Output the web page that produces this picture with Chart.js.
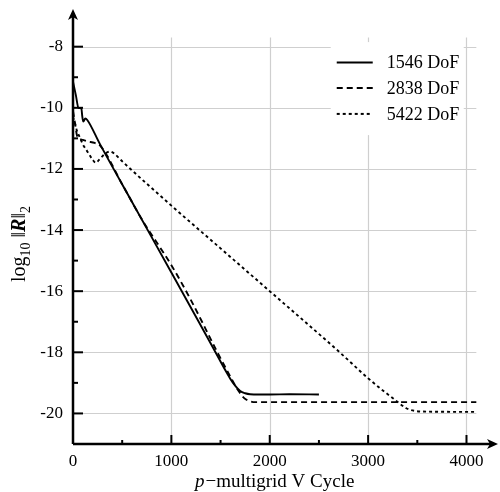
<!DOCTYPE html>
<html>
<head>
<meta charset="utf-8">
<script src="https://cdn.jsdelivr.net/npm/chart.js@4.4.1/dist/chart.umd.min.js"></script>
<style>
html,body{margin:0;padding:0;background:#fff;}
canvas{display:block;}
</style>
</head>
<body>
<canvas id="c" width="500" height="492"></canvas>
<script>
// ---- data ----
const seriesLabels = ['1546 DoF', '2838 DoF', '5422 DoF'];

const dof1546X = [0, 30, 55, 85, 95, 105, 125, 145, 274, 600, 1000, 1400, 1600, 1650, 1700, 1750, 1800, 2000, 2200, 2500];
const dof1546Y = [-9.15, -9.6, -10.0, -10.02, -10.3, -10.45, -10.35, -10.4, -11.19, -13.08, -15.39, -17.71, -18.87, -19.1, -19.27, -19.34, -19.37, -19.38, -19.37, -19.38];

const dof2838X = [0, 20, 40, 60, 100, 150, 220, 280, 500, 700, 1000, 1200, 1460, 1600, 1680, 1740, 1800, 1850, 2500, 3000, 3500, 4100];
const dof2838Y = [-10.1, -10.5, -10.9, -11.0, -11.05, -11.1, -11.15, -11.25, -12.5, -13.65, -15.15, -16.3, -17.95, -18.8, -19.25, -19.5, -19.6, -19.63, -19.63, -19.63, -19.63, -19.63];

const dof5422X = [0, 20, 40, 60, 80, 100, 130, 160, 200, 233, 260, 300, 340, 380, 420, 500, 1000, 1500, 2000, 2711, 3000, 3150, 3252, 3388, 3480, 3600, 4100];
const dof5422Y = [-10.3, -10.5, -10.75, -10.9, -11.05, -11.2, -11.35, -11.5, -11.7, -11.8, -11.72, -11.58, -11.47, -11.43, -11.5, -11.75, -13.2, -14.6, -16.0, -18.0, -18.85, -19.25, -19.5, -19.83, -19.92, -19.94, -19.95];

const xTickValues = [0, 500, 1000, 1500, 2000, 2500, 3000, 3500, 4000];
const xMajorLabels = [0, 1000, 2000, 3000, 4000];
const yMajorLabels = [-8, -10, -12, -14, -16, -18, -20];

// ---- chart ----
const FONT = "'Liberation Serif', 'Times New Roman', serif";
const zip = (xs, ys) => xs.map((x, i) => ({x: x, y: ys[i]}));
const isMajor = (v, list) => list.some(m => Math.abs(m - v) < 1e-6);

const deco = {
  id: 'deco',
  beforeDatasetsDraw(chart) {
    const ctx = chart.ctx, xs = chart.scales.x, ys = chart.scales.y;
    ctx.save();
    ctx.strokeStyle = '#cfcfcf';
    ctx.lineWidth = 1.2;
    const gx0 = xs.getPixelForValue(0), gx1 = xs.getPixelForValue(4100);
    const gy0 = ys.getPixelForValue(-21), gy1 = ys.getPixelForValue(-7.7);
    yMajorLabels.forEach(v => {
      const py = Math.round(ys.getPixelForValue(v)) + 0.5;
      ctx.beginPath(); ctx.moveTo(gx0, py); ctx.lineTo(gx1, py); ctx.stroke();
    });
    xMajorLabels.filter(v => v > 0).forEach(v => {
      const px = Math.round(xs.getPixelForValue(v)) + 0.5;
      ctx.beginPath(); ctx.moveTo(px, gy0); ctx.lineTo(px, gy1); ctx.stroke();
    });
    ctx.restore();
  },
  afterDatasetsDraw(chart) {
    const ctx = chart.ctx, xs = chart.scales.x, ys = chart.scales.y, ca = chart.chartArea;
    ctx.save();
    const ox = xs.getPixelForValue(0), oy = ys.getPixelForValue(-21);
    // ticks
    ctx.strokeStyle = '#000';
    ctx.lineWidth = 2;
    ys.ticks.forEach(t => {
      const v = Math.round(t.value);
      if (v < -20 || v > -8) return;
      const len = (v % 2 === 0) ? 10 : 5;
      const py = ys.getPixelForValue(v);
      ctx.beginPath(); ctx.moveTo(ox, py); ctx.lineTo(ox + len, py); ctx.stroke();
    });
    xs.ticks.forEach(t => {
      const v = Math.round(t.value);
      if (v <= 0 || v > 4000) return;
      const len = (v % 1000 === 0) ? 9 : 4;
      const px = xs.getPixelForValue(v);
      ctx.beginPath(); ctx.moveTo(px, oy); ctx.lineTo(px, oy - len); ctx.stroke();
    });
    // x tick labels
    ctx.fillStyle = '#000';
    ctx.font = '17px ' + FONT;
    ctx.textAlign = 'center';
    ctx.textBaseline = 'alphabetic';
    xs.ticks.forEach(t => {
      if (!isMajor(t.value, xMajorLabels)) return;
      ctx.fillText(String(Math.round(t.value)), xs.getPixelForValue(t.value), oy + 22);
    });
    // axes
    ctx.lineWidth = 2.5;
    ctx.beginPath(); ctx.moveTo(ox, oy); ctx.lineTo(ox, ca.top + 6); ctx.stroke();
    ctx.beginPath(); ctx.moveTo(ox, oy); ctx.lineTo(ca.right - 6, oy); ctx.stroke();
    // y arrow
    const tx = ox, ty = ca.top - 1;
    ctx.beginPath();
    ctx.moveTo(tx, ty); ctx.lineTo(tx - 5, ty + 11); ctx.lineTo(tx, ty + 8); ctx.lineTo(tx + 5, ty + 11); ctx.closePath(); ctx.fill();
    // x arrow
    const ax = ca.right + 2, ay = oy;
    ctx.beginPath();
    ctx.moveTo(ax, ay); ctx.lineTo(ax - 11, ay - 5); ctx.lineTo(ax - 8, ay); ctx.lineTo(ax - 11, ay + 5); ctx.closePath(); ctx.fill();

    // legend
    const lx = xs.getPixelForValue(2620), ly = ys.getPixelForValue(-7.85);
    ctx.fillStyle = '#fff';
    ctx.fillRect(lx, ly, 133, 93);
    const rowsY = [-8.52, -9.35, -10.2];
    ctx.textAlign = 'left';
    chart.data.datasets.forEach((ds, i) => {
      const py = ys.getPixelForValue(rowsY[i]);
      ctx.strokeStyle = '#000';
      ctx.lineWidth = 2;
      ctx.setLineDash(ds.borderDash || []);
      ctx.beginPath(); ctx.moveTo(lx + 6, py); ctx.lineTo(lx + 42, py); ctx.stroke();
      ctx.setLineDash([]);
      ctx.fillStyle = '#000';
      ctx.font = '18px ' + FONT;
      ctx.textBaseline = 'middle';
      ctx.fillText(ds.label, lx + 56, py + 1);
    });

    // x title
    ctx.textBaseline = 'alphabetic';
    ctx.fillStyle = '#000';
    const pItal = 'italic 19px ' + FONT, norm = '19px ' + FONT;
    ctx.font = pItal; const w1 = ctx.measureText('p').width;
    ctx.font = norm; const rest = '\u2212multigrid V Cycle'; const w2 = ctx.measureText(rest).width;
    const cx = (xs.getPixelForValue(0) + xs.getPixelForValue(4100)) / 2;
    const sx = cx - (w1 + w2 + 1) / 2;
    ctx.font = pItal; ctx.fillText('p', sx, 487);
    ctx.font = norm; ctx.fillText(rest, sx + w1 + 1, 487);

    // y title (rotated)
    const segs = [
      {t: 'log', f: '20px ' + FONT, dy: 0},
      {t: '10', f: '14px ' + FONT, dy: 5},
      {t: ' \u2016', f: '20px ' + FONT, dy: 0},
      {t: 'R', f: 'italic bold 20px ' + FONT, dy: 0},
      {t: '\u2016', f: '20px ' + FONT, dy: 0},
      {t: '2', f: '14px ' + FONT, dy: 5}
    ];
    let tw = 0;
    segs.forEach(s => { ctx.font = s.f; s.w = ctx.measureText(s.t).width; tw += s.w; });
    ctx.translate(25, 244);
    ctx.rotate(-Math.PI / 2);
    let px = -tw / 2;
    segs.forEach(s => { ctx.font = s.f; ctx.fillText(s.t, px, s.dy); px += s.w; });
    ctx.restore();
  }
};

new Chart(document.getElementById('c'), {
  type: 'line',
  data: {
    datasets: [
      {label: seriesLabels[0], data: zip(dof1546X, dof1546Y), borderColor: '#000', borderWidth: 1.9, borderDash: []},
      {label: seriesLabels[1], data: zip(dof2838X, dof2838Y), borderColor: '#000', borderWidth: 1.9, borderDash: [6, 4]},
      {label: seriesLabels[2], data: zip(dof5422X, dof5422Y), borderColor: '#000', borderWidth: 1.9, borderDash: [3, 3]}
    ]
  },
  options: {
    responsive: false,
    animation: false,
    devicePixelRatio: 1,
    layout: {padding: {top: 10, right: 4, left: 0, bottom: 0}},
    elements: {point: {radius: 0}, line: {tension: 0, cubicInterpolationMode: 'monotone', fill: false}},
    plugins: {legend: {display: false}, tooltip: {enabled: false}},
    scales: {
      x: {
        type: 'linear', min: 0, max: 4300,
        grid: {display: false, drawTicks: false},
        border: {display: false},
        afterBuildTicks: s => { s.ticks = xTickValues.map(v => ({value: v})); },
        afterFit: s => { s.height = 48; s.paddingLeft = 0; s.paddingRight = 0; s.paddingTop = 0; s.paddingBottom = 0; },
        ticks: {
          autoSkip: false, maxRotation: 0, minRotation: 0,
          color: 'rgba(0,0,0,0)', font: {family: FONT, size: 17},
          callback: v => ''
        }
      },
      y: {
        type: 'linear', min: -21, max: -6.8,
        grid: {display: false, drawTicks: false},
        border: {display: false},
        afterFit: s => { s.width = 73; s.paddingLeft = 0; s.paddingRight = 0; s.paddingTop = 0; s.paddingBottom = 0; },
        ticks: {
          stepSize: 1, includeBounds: false, autoSkip: false, padding: 10,
          color: '#000', font: {family: FONT, size: 17},
          callback: v => isMajor(v, yMajorLabels) ? String(Math.round(v)) : ''
        }
      }
    }
  },
  plugins: [deco]
});
</script>
</body>
</html>
